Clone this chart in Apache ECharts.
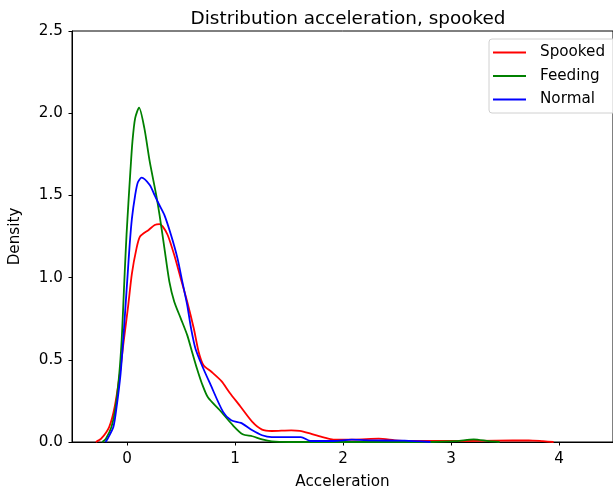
<!DOCTYPE html>
<html>
<head>
<meta charset="utf-8">
<script src="https://cdn.jsdelivr.net/npm/echarts@6/dist/echarts.min.js"></script>
<style>
  html, body { margin: 0; padding: 0; background: #fff; }
  #chart { width: 613px; height: 496px; }
</style>
</head>
<body>
<div id="chart"></div>
<script>
// KDE curves, [acceleration, density]
var spooked = [
    [-0.29, 0], [-0.24, 0.02], [-0.166, 0.091], [-0.115, 0.213], [-0.067, 0.416],
    [-0.03, 0.619], [0.009, 0.822], [0.045, 1.025], [0.085, 1.17], [0.12, 1.25],
    [0.2, 1.29], [0.256, 1.32], [0.3, 1.325], [0.331, 1.31], [0.376, 1.259],
    [0.437, 1.137], [0.497, 0.995], [0.557, 0.853], [0.618, 0.69], [0.663, 0.548],
    [0.708, 0.467], [0.783, 0.426], [0.874, 0.37], [0.95, 0.3], [1.04, 0.224],
    [1.16, 0.122], [1.25, 0.075], [1.34, 0.067], [1.52, 0.071], [1.6, 0.068],
    [1.7, 0.051], [1.82, 0.028], [1.91, 0.014], [2.1, 0.014], [2.33, 0.02],
    [2.51, 0.008], [2.81, 0.006], [3.1, 0.006], [3.42, 0.008], [3.72, 0.01],
    [3.85, 0.005], [3.95, 0]
];
var feeding = [
    [-0.23, 0], [-0.196, 0.02], [-0.145, 0.091], [-0.106, 0.213], [-0.072, 0.416],
    [-0.05, 0.62], [-0.036, 0.82], [-0.022, 1.03], [-0.005, 1.26], [0.012, 1.45],
    [0.03, 1.64], [0.05, 1.83], [0.075, 1.97], [0.111, 2.034], [0.16, 1.909],
    [0.21, 1.705], [0.27, 1.502], [0.301, 1.38], [0.346, 1.178], [0.392, 0.974],
    [0.437, 0.853], [0.497, 0.752], [0.557, 0.65], [0.602, 0.548], [0.647, 0.447],
    [0.693, 0.356], [0.75, 0.27], [0.859, 0.193], [0.979, 0.102], [1.07, 0.047],
    [1.16, 0.035], [1.25, 0.016], [1.34, 0.004], [1.5, 0], [2.8, 0],
    [3.05, 0.005], [3.21, 0.016], [3.35, 0.005], [3.45, 0]
];
var normal = [
    [-0.2, 0], [-0.18, 0.02], [-0.127, 0.091], [-0.097, 0.213], [-0.06, 0.416],
    [-0.036, 0.619], [-0.015, 0.822], [0.006, 1.025], [0.024, 1.2], [0.045, 1.36],
    [0.075, 1.502], [0.1, 1.58], [0.135, 1.608], [0.21, 1.563], [0.256, 1.5],
    [0.3, 1.44], [0.346, 1.38], [0.407, 1.259], [0.467, 1.117], [0.512, 0.974],
    [0.557, 0.833], [0.593, 0.69], [0.633, 0.569], [0.693, 0.467], [0.768, 0.356],
    [0.889, 0.183], [0.964, 0.132], [1.054, 0.116], [1.16, 0.071], [1.25, 0.041],
    [1.34, 0.03], [1.52, 0.03], [1.61, 0.03], [1.7, 0.006], [1.91, 0.006],
    [2.08, 0.014], [2.27, 0.01], [2.57, 0.008], [2.81, 0]
];
var xTicks = [0, 1, 2, 3, 4];

var font = 'DejaVu Sans';
var chart = echarts.init(document.getElementById('chart'));

function curve(name, color, data) {
    return {
        name: name,
        type: 'line',
        data: data,
        smooth: 0.25,
        showSymbol: false,
        symbol: 'none',
        lineStyle: { color: color, width: 1.8 },
        itemStyle: { color: color },
        emphasis: { disabled: true }
    };
}

chart.setOption({
    animation: false,
    backgroundColor: '#fff',
    title: {
        text: 'Distribution acceleration, spooked',
        left: 343,
        top: 5,
        textAlign: 'center',
        textStyle: { fontFamily: font, fontSize: 18.4, fontWeight: 'normal', color: '#000' }
    },
    legend: {
        left: 489,
        top: 39,
        orient: 'vertical',
        icon: 'rect',
        itemWidth: 33,
        itemHeight: 2,
        itemGap: 6.5,
        padding: [5, 30, 5, 4],
        borderColor: '#d0d0d0',
        borderWidth: 1,
        borderRadius: 3,
        backgroundColor: 'rgba(255,255,255,0.8)',
        textStyle: { fontFamily: font, fontSize: 15.2, color: '#000', lineHeight: 17, padding: [0, 0, 0, 9] },
        data: ['Spooked', 'Feeding', 'Normal']
    },
    grid: {
        left: 65,
        top: 31,
        right: -6,
        bottom: 54,
        show: true,
        borderColor: '#000',
        borderWidth: 1
    },
    xAxis: {
        type: 'value',
        min: -0.51,
        max: 4.5,
        name: 'Acceleration',
        nameLocation: 'middle',
        nameGap: 33,
        nameTextStyle: { fontFamily: font, fontSize: 15.2, color: '#000' },
        axisLine: { onZero: false, lineStyle: { color: '#000', width: 1 } },
        axisTick: { customValues: xTicks, length: 3.5, lineStyle: { color: '#000' } },
        axisLabel: {
            customValues: xTicks,
            fontFamily: font, fontSize: 15.2, color: '#000', margin: 10
        },
        splitLine: { show: false }
    },
    yAxis: {
        type: 'value',
        min: 0,
        max: 2.5,
        interval: 0.5,
        name: 'Density',
        nameLocation: 'middle',
        nameGap: 49,
        nameTextStyle: { fontFamily: font, fontSize: 15.2, color: '#000' },
        axisLine: { show: true, onZero: false, lineStyle: { color: '#000', width: 1 } },
        axisTick: { show: true, length: 3.5, lineStyle: { color: '#000' } },
        axisLabel: {
            fontFamily: font, fontSize: 15.2, color: '#000', margin: 9,
            formatter: function(v) { return v.toFixed(1); }
        },
        splitLine: { show: false }
    },
    series: [
        curve('Spooked', '#ff0000', spooked),
        curve('Feeding', '#008000', feeding),
        curve('Normal', '#0000ff', normal)
    ]
});
</script>
</body>
</html>
